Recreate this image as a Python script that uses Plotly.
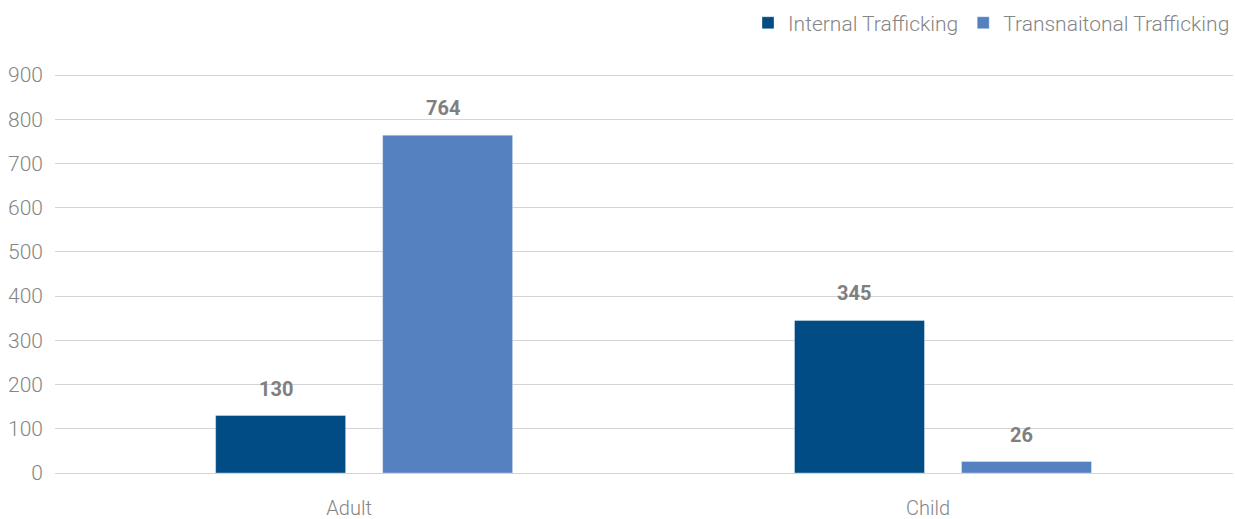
import plotly.graph_objects as go

# Trafficking cases by victim age group
categories = ["Adult", "Child"]
internal = [130, 345]
transnational = [764, 26]
series_names = ["Internal Trafficking", "Transnaitonal Trafficking"]
y_ticks = [0, 100, 200, 300, 400, 500, 600, 700, 800, 900]

COL_INTERNAL = "#014C84"
COL_TRANS = "#5581C1"
TEXT_GRAY = "#858585"
LABEL_GRAY = "#7F7F7F"
FONT = "Roboto"

fig = go.Figure()
fig.add_trace(go.Bar(x=categories, y=internal, name=series_names[0],
                     marker=dict(color=COL_INTERNAL, line=dict(width=0.6, color="rgba(255,255,255,0.6)"))))
fig.add_trace(go.Bar(x=categories, y=transnational, name=series_names[1],
                     marker=dict(color=COL_TRANS, line=dict(width=0.6, color="rgba(255,255,255,0.6)"))))

# value labels above each bar
slot_px = 83.5
for values, sign in ((internal, -1), (transnational, 1)):
    for cat, v in zip(categories, values):
        fig.add_annotation(x=cat, y=v, text=f"<b>{v}</b>", showarrow=False,
                           xshift=sign * slot_px - 5, yshift=27, yanchor="middle",
                           font=dict(family=FONT, size=20, color=LABEL_GRAY))

fig.update_layout(
    width=1235, height=519,
    margin=dict(l=55, r=2, t=74, b=46),
    paper_bgcolor="white", plot_bgcolor="white",
    barmode="group", bargap=0.423, bargroupgap=0.2216,
    font=dict(family=FONT, size=20, color=TEXT_GRAY, weight=300),
    legend=dict(orientation="h", x=1.0105, xanchor="right", y=0.995, yanchor="top",
                yref="container", font=dict(family=FONT, size=21, color=TEXT_GRAY, weight=300),
                itemwidth=30, bgcolor="rgba(0,0,0,0)"),
    xaxis=dict(range=[-0.534, 1.501], showgrid=False, showline=False, ticks="",
               ticklabelshift=-15, ticklabelstandoff=21, automargin=False,
               tickfont=dict(family=FONT, size=20, color=TEXT_GRAY, weight=300)),
    yaxis=dict(range=[0, 902.3], tickvals=y_ticks, showgrid=True, gridcolor="#D4D4D4",
               gridwidth=1, zeroline=True, zerolinecolor="#D4D4D4", zerolinewidth=1,
               showline=False, ticks="", ticklabelstandoff=11, automargin=False,
               tickfont=dict(family=FONT, size=21, color=TEXT_GRAY, weight=300)),
)

fig.write_html("out.html")
